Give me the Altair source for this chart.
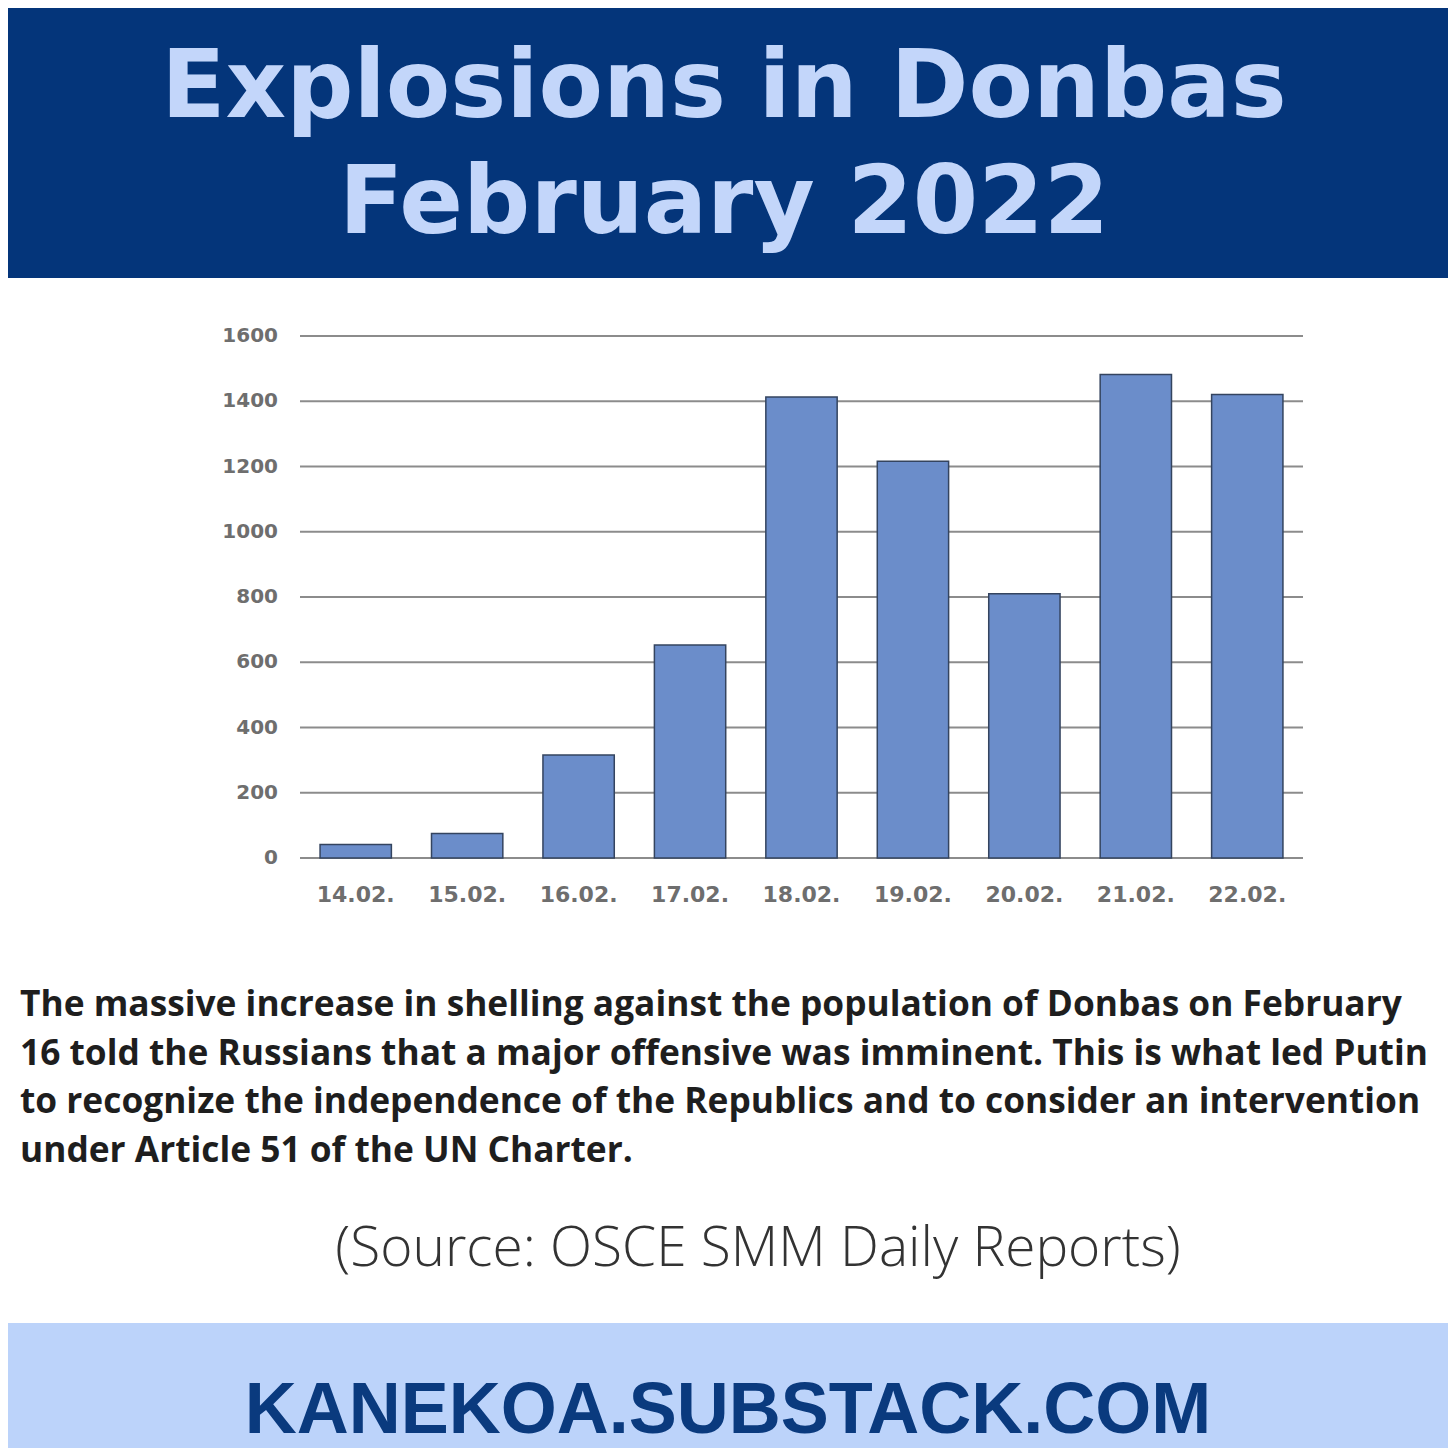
import altair as alt
import pandas as pd

# ---- data ----
dates = ["14.02.", "15.02.", "16.02.", "17.02.", "18.02.", "19.02.", "20.02.", "21.02.", "22.02."]
explosions = [41, 75, 316, 653, 1413, 1216, 810, 1482, 1421]
y_ticks = [0, 200, 400, 600, 800, 1000, 1200, 1400, 1600]

title_lines = ["Explosions in Donbas", "February 2022"]
body_lines = [
    "The massive increase in shelling against the population of Donbas on February",
    "16 told the Russians that a major offensive was imminent. This is what led Putin",
    "to recognize the independence of the Republics and to consider an intervention",
    "under Article 51 of the UN Charter.",
]
source_text = "(Source: OSCE SMM Daily Reports)"
footer_text = "KANEKOA.SUBSTACK.COM"

NAVY = "#04357a"
LIGHT = "#c3d6fa"
FOOT_BG = "#bcd3fa"

W, H = 1440, 1440
PLOT_X0, PLOT_X1 = 292, 1295
PLOT_Y0, PLOT_Y1 = 850, 328

bars_df = pd.DataFrame({"date": dates, "explosions": explosions})
ticks_df = pd.DataFrame({"tick": y_ticks})
one = pd.DataFrame({"a": [0]})

xscale = alt.Scale(domain=dates, range=[PLOT_X0, PLOT_X1], paddingInner=0.36, paddingOuter=0.18)
yscale = alt.Scale(domain=[0, 1600], range=[PLOT_Y0, PLOT_Y1], nice=False, zero=True)

layers = []

# top banner
layers.append(alt.Chart(one).mark_rect(color=NAVY).encode(
    x=alt.value(0), x2=alt.value(W), y=alt.value(0), y2=alt.value(270)))
# footer band
layers.append(alt.Chart(one).mark_rect(color=FOOT_BG).encode(
    x=alt.value(0), x2=alt.value(W), y=alt.value(1315), y2=alt.value(H)))

# title
for line, yb in zip(title_lines, [109, 225]):
    layers.append(alt.Chart(one).mark_text(
        text=line, font="DejaVu Sans", fontWeight="bold", fontSize=94, color=LIGHT,
        align="center", baseline="alphabetic").encode(x=alt.value(716), y=alt.value(yb)))

# gridlines
layers.append(alt.Chart(ticks_df).mark_rule(color="#8c8c8c", strokeWidth=2).encode(
    y=alt.Y("tick:Q", scale=yscale, axis=None),
    x=alt.value(PLOT_X0), x2=alt.value(PLOT_X1)))

# y tick labels
layers.append(alt.Chart(ticks_df).mark_text(
    font="DejaVu Sans", fontWeight="bold", fontSize=20, color="#6e6e6e", align="right",
    baseline="middle").encode(
    y=alt.Y("tick:Q", scale=yscale, axis=None),
    x=alt.value(270),
    text=alt.Text("tick:Q", format="d")))

# bars
layers.append(alt.Chart(bars_df).mark_bar(
    color="#6b8dca", stroke="#34445f", strokeWidth=1.5).encode(
    x=alt.X("date:N", scale=xscale, axis=None, sort=dates),
    y=alt.Y("explosions:Q", scale=yscale, axis=None)))

# x labels
layers.append(alt.Chart(bars_df).mark_text(
    font="DejaVu Sans", fontWeight="bold", fontSize=22, color="#6e6e6e", align="center",
    baseline="middle").encode(
    x=alt.X("date:N", scale=xscale, axis=None, sort=dates),
    y=alt.value(887),
    text="date:N"))

# body text
for line, yb in zip(body_lines, [1008, 1056.5, 1105, 1153.5]):
    layers.append(alt.Chart(one).mark_text(
        text=line, font="Open Sans", fontWeight="bold", fontSize=35.3, color="#1e1e1e",
        align="left", baseline="alphabetic").encode(x=alt.value(12), y=alt.value(yb)))

# source
layers.append(alt.Chart(one).mark_text(
    text=source_text, font="Open Sans", fontWeight=300, fontSize=55, color="#333333",
    align="center", baseline="alphabetic").encode(x=alt.value(750), y=alt.value(1258)))

# footer text
layers.append(alt.Chart(one).mark_text(
    text=footer_text, font="Liberation Sans", fontWeight="bold", fontSize=72, color="#0a3a7e",
    align="center", baseline="alphabetic").encode(x=alt.value(720), y=alt.value(1425)))

chart = alt.layer(*layers).properties(
    width=W, height=H, autosize="none", padding=0, background="white"
).configure_view(strokeWidth=0)

chart.save("out.html", embed_options={"renderer": "svg", "actions": False})
